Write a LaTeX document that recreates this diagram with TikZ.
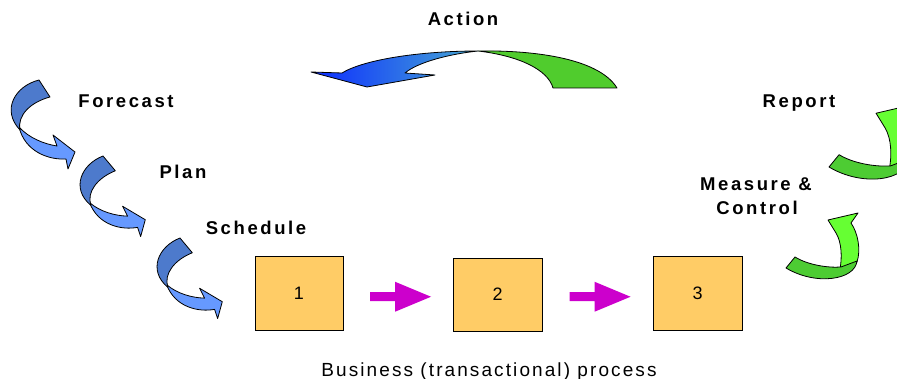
\documentclass[tikz,border=0pt]{standalone}
\usepackage{fontspec}
\setmainfont{Liberation Sans}
\newfontfamily\tagfont[LetterSpace=14]{Liberation Sans}
\newfontfamily\capfont[LetterSpace=11]{Liberation Sans}
\usetikzlibrary{calc}

\definecolor{bluedark}{RGB}{77,122,204}
\definecolor{bluelight}{RGB}{102,153,255}
\definecolor{greendark}{RGB}{77,204,51}
\definecolor{greenlight}{RGB}{102,255,51}
\definecolor{actblue}{RGB}{12,44,255}
\definecolor{actmid}{RGB}{30,82,242}
\definecolor{actteal}{RGB}{72,170,212}
\definecolor{actgreen}{RGB}{80,204,45}
\definecolor{boxfill}{RGB}{255,204,102}
\definecolor{flow}{RGB}{204,0,204}

\tikzset{
  edge/.style={draw=black, line width=0.8pt, line join=round},
  stepbox/.style={draw=black, line width=0.9pt, fill=boxfill,
    minimum width=88pt, minimum height=74pt, inner sep=0pt,
    font=\fontsize{18}{20}\selectfont},
  tag/.style={font=\tagfont\bfseries\fontsize{18.5}{20}\selectfont,
    inner sep=0pt, anchor=base},
  caption/.style={font=\capfont\fontsize{19}{21}\selectfont,
    inner sep=0pt, anchor=base},
  % twisted blue ribbon arrow curling down to the right
  pics/bluecurl/.style={code={
    \path[edge, fill=bluelight] (-20,47) .. controls (-10,58) and (5,64) .. (18,66)
      -- (14,55) -- (36,72) -- (29,89) -- (27,79)
      .. controls (10,80) and (-14,72) .. (-20,47) -- cycle;
    \path[edge, fill=bluedark] (0,0) .. controls (-24,6) and (-38,30) .. (-19,50)
      .. controls (-22,35) and (-8,22) .. (11,17) -- cycle;
  }},
  % twisted green ribbon arrow curling up
  pics/greencurl/.style={code={
    \path[edge, fill=greenlight] (50,-35) -- (42,-48) -- (72,-55) -- (65,-45)
      .. controls (72,-35) and (75,-18) .. (71,-6) -- (54,1)
      .. controls (56,-10) and (56,-25) .. (50,-35) -- cycle;
    \path[edge, fill=greendark] (9,-11) .. controls (22,-3) and (42,0) .. (55,-1)
      -- (71,-7) .. controls (69,12) and (30,18) .. (0,0) -- cycle;
  }},
  % straight block arrow between two process steps
  pics/flowarrow/.style={code={
    \fill[flow] (-28,-1.5) -- (-3,-1.5) -- (-3,-12) -- (33,3) -- (-3,18)
      -- (-3,7.5) -- (-28,7.5) -- cycle;
  }}
}

\begin{document}
\begin{tikzpicture}[x=1pt, y=-1pt]
\useasboundingbox (0,0) rectangle (897,379);
\begin{scope}
\clip (0,0) rectangle (897,379);

% process steps
\node[stepbox] (b1) at (299,293) {1};
\node[stepbox, minimum width=89pt, minimum height=73pt] (b2) at (497.5,294.5) {2};
\node[stepbox, minimum width=89pt] (b3) at (697.5,293) {3};

\coordinate (m1) at ($(b1.east)!0.5!(b2.west)$);
\coordinate (m2) at ($(b2.east)!0.5!(b3.west)$);
\pic at (m1) {flowarrow};
\pic at (m2) {flowarrow};

\node[caption] (proc) at (489,376) {Business (transactional) process};

% planning side
\pic at (39,80) {bluecurl};
\pic[rotate=7, scale=0.95] at (103,156) {bluecurl};
\pic[rotate=7, scale=0.95] at (180,238) {bluecurl};

\node[tag] (forecast) at (126,108) {Forecast};
\node[tag] (plan) at (183,179) {Plan};
\node[tag] (schedule) at (256,235) {Schedule};

% feedback side
\pic at (786,268) {greencurl};
\pic[scale=1.12] at (829,167) {greencurl};

\node[tag] (report) at (799,108) {Report};
\node[tag] (measure) at (756,191) {Measure \&};
\node[tag] (control) at (757,215) {Control};

% action arrow across the top
\node[tag] (action) at (463,26) {Action};
\path[edge, left color=actblue, middle color=actmid, right color=actteal]
  (311,72) -- (342,73) .. controls (363,60) and (418,51) .. (478,51)
  .. controls (450,54) and (418,62) .. (405,73) -- (435,75) -- (367,87) -- cycle;
\path[edge, fill=actgreen]
  (478,51) .. controls (540,50) and (600,60) .. (617,88) -- (553,88)
  .. controls (548,70) and (520,56) .. (478,51) -- cycle;
\end{scope}
\end{tikzpicture}
\end{document}
